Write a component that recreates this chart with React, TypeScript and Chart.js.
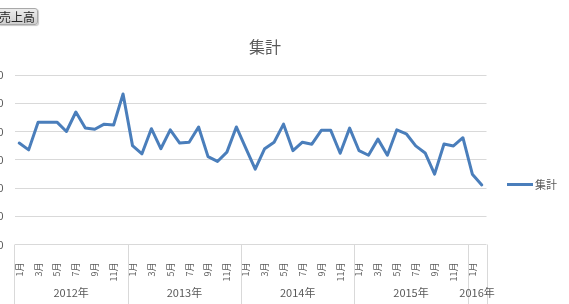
import React, { useEffect, useRef } from 'react';
import { Chart, registerables } from 'chart.js';

Chart.register(...registerables);

const FONT = '"Noto Sans CJK JP", "Noto Sans", sans-serif';

const chartTitle = '集計';
const seriesName = '集計';
const fieldButton = '売上高';

const yearLabels = ['2012年', '2013年', '2014年', '2015年', '2016年'];
const monthsInYear = [12, 12, 12, 12, 2];
const monthNames = ['1月', '2月', '3月', '4月', '5月', '6月', '7月', '8月', '9月', '10月', '11月', '12月'];

const monthLabels: string[] = monthsInYear.flatMap((n) => monthNames.slice(0, n));

const salesValues = [
  359, 335, 433, 433, 433, 400, 469, 412, 408, 426, 423, 533,
  350, 321, 410, 339, 406, 359, 362, 416, 311, 294, 327, 416,
  341, 267, 339, 362, 426, 332, 362, 355, 404, 404, 323, 412,
  332, 316, 373, 316, 406, 392, 349, 324, 249, 356, 349, 378,
  249, 211,
];

const yMin = 0;
const yMax = 600;
const yStep = 100;

const LINE_COLOR = '#4a7ebb';
const TEXT_COLOR = '#595959';
const GRID_COLOR = '#d9d9d9';

const excelDecor = {
  id: 'excelDecor',
  afterDraw(chart: any) {
    const ctx = chart.ctx as CanvasRenderingContext2D;
    const xs = chart.scales.x;
    const area = chart.chartArea;
    const H = chart.height;
    ctx.save();
    const half = (xs.getPixelForValue(1) - xs.getPixelForValue(0)) / 2;
    ctx.strokeStyle = GRID_COLOR;
    ctx.lineWidth = 1;
    let start = 0;
    const edges: number[] = [];
    const centers: number[] = [];
    monthsInYear.forEach((n, gi) => {
      const l = xs.getPixelForValue(start) - half;
      const r = xs.getPixelForValue(start + n - 1) + half;
      if (gi === 0) edges.push(l);
      edges.push(r);
      centers.push((l + r) / 2);
      start += n;
    });
    edges.forEach((e) => {
      const px = Math.round(e) + 0.5;
      ctx.beginPath();
      ctx.moveTo(px, area.bottom);
      ctx.lineTo(px, H);
      ctx.stroke();
    });
    ctx.fillStyle = TEXT_COLOR;
    ctx.font = `11px ${FONT}`;
    ctx.textAlign = 'center';
    ctx.textBaseline = 'middle';
    centers.forEach((c, i) => ctx.fillText(yearLabels[i], c, 293));

    ctx.font = `16px ${FONT}`;
    ctx.fillText(chartTitle, 265, 47);

    ctx.strokeStyle = LINE_COLOR;
    ctx.lineWidth = 3;
    ctx.beginPath();
    ctx.moveTo(507, 184.5);
    ctx.lineTo(533, 184.5);
    ctx.stroke();
    ctx.font = `11px ${FONT}`;
    ctx.textAlign = 'left';
    ctx.fillText(seriesName, 535, 184.5);
    ctx.restore();
  },
};

export default function App() {
  const ref = useRef<HTMLCanvasElement | null>(null);

  useEffect(() => {
    if (!ref.current) return;
    Chart.defaults.font.family = FONT;
    const chart = new Chart(ref.current, {
      type: 'line',
      data: {
        labels: monthLabels,
        datasets: [
          {
            label: seriesName,
            data: salesValues,
            borderColor: LINE_COLOR,
            backgroundColor: LINE_COLOR,
            borderWidth: 3,
            pointRadius: 0,
            pointHoverRadius: 0,
            tension: 0,
            borderJoinStyle: 'round',
            borderCapStyle: 'round',
          },
        ],
      },
      options: {
        animation: false,
        responsive: false,
        events: [],
        layout: { padding: { top: 75, bottom: 0, left: 0, right: 82.5 } },
        plugins: {
          legend: { display: false },
          title: { display: false },
          tooltip: { enabled: false },
        },
        scales: {
          x: {
            type: 'category',
            offset: true,
            grid: { display: false },
            border: { display: false },
            ticks: {
              autoSkip: false,
              maxRotation: 90,
              minRotation: 90,
              padding: 10,
              color: TEXT_COLOR,
              font: { size: 9, family: FONT },
              callback: (_v: any, i: number) => (i % 2 === 0 ? monthLabels[i] : ''),
            },
            afterFit: (s: any) => {
              s.height = 59.5;
            },
          },
          y: {
            min: yMin,
            max: yMax,
            grid: { color: GRID_COLOR, drawTicks: false },
            border: { display: false },
            ticks: {
              stepSize: yStep,
              padding: 11,
              color: TEXT_COLOR,
              font: { size: 11, family: FONT },
            },
            afterFit: (s: any) => {
              s.width = 14.5;
            },
          },
        },
      },
      plugins: [excelDecor],
    });
    return () => chart.destroy();
  }, []);

  return (
    <div style={{ position: 'fixed', left: 0, top: 0, width: 569, height: 304, background: '#fff', overflow: 'hidden' }}>
      <canvas ref={ref} width={569} height={304} style={{ display: 'block', width: 569, height: 304 }} />
      <div
        style={{
          position: 'absolute',
          left: -3,
          top: 8,
          width: 41,
          height: 17,
          boxSizing: 'border-box',
          border: '1px solid #a9a9a9',
          borderRadius: 3,
          background: 'linear-gradient(#ececec, #cfcfcf)',
          boxShadow: '1px 1px 1px #c8c8c8',
          font: `12px ${FONT}`,
          lineHeight: '15px',
          color: '#262626',
          textAlign: 'right',
          paddingRight: 2,
          whiteSpace: 'nowrap',
        }}
      >
        {fieldButton}
      </div>
    </div>
  );
}
